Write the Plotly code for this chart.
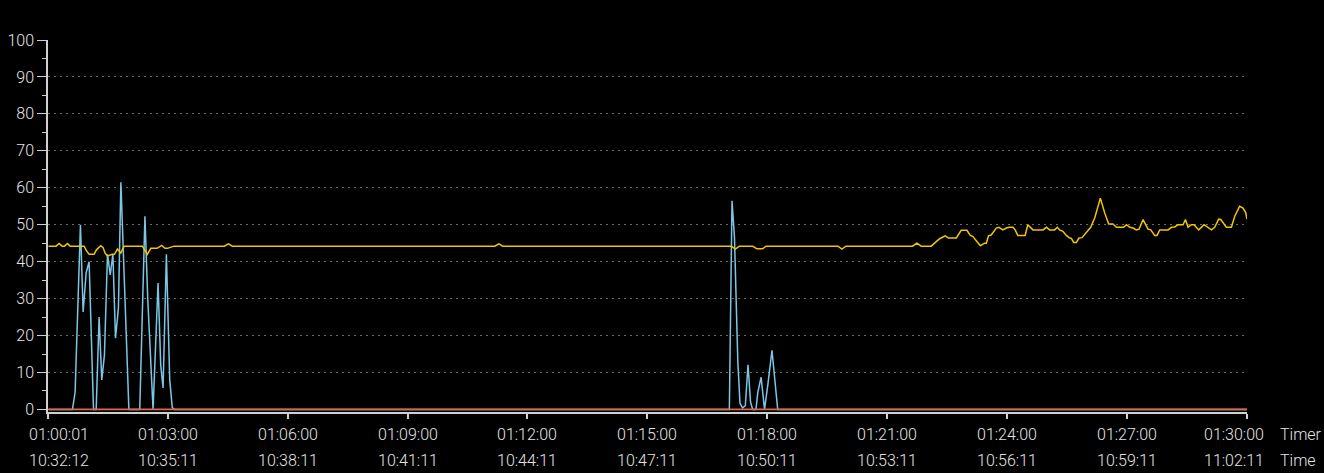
import plotly.graph_objects as go

# ---- data (seconds after 01:00:00 on the timer) ----
tick_seconds = [1, 180, 360, 540, 720, 900, 1080, 1260, 1440, 1620, 1800]
timer_labels = ["01:00:01", "01:03:00", "01:06:00", "01:09:00", "01:12:00", "01:15:00",
                "01:18:00", "01:21:00", "01:24:00", "01:27:00", "01:30:00"]
time_labels = ["10:32:12", "10:35:11", "10:38:11", "10:41:11", "10:44:11", "10:47:11",
               "10:50:11", "10:53:11", "10:56:11", "10:59:11", "11:02:11"]
y_ticks = [0, 10, 20, 30, 40, 50, 60, 70, 80, 90, 100]

blue_t = [1, 37, 41, 49, 53, 57.6, 62, 68.6, 72.6, 77, 81, 85, 89.6, 93.7, 97.7, 101.6, 106,
          109.7, 121.7, 138, 145.8, 150, 158, 165.5, 169.5, 173, 178, 183, 186.8, 190,
          1023, 1027, 1030.7, 1035.7, 1039, 1043, 1047, 1051, 1054.8, 1058, 1063, 1065.7,
          1070.7, 1075.8, 1081, 1087, 1095.6, 1800]
blue_v = [0, 0, 4.7, 50, 26.4, 37, 40, 0, 0, 25, 8, 14.7, 42, 36.4, 42, 19.3, 27.4,
          61.5, 0, 0, 52.3, 30, 0, 34.2, 12, 5.8, 42, 8, 0.5, 0,
          0, 56.5, 46.5, 13, 1.6, 0.4, 1, 12.1, 2, 0, 0, 4.6,
          8.7, 0, 7, 16, 0, 0]

yellow_t = [1, 12.5, 17, 21.5, 25, 29.5, 33.5, 54.5, 58, 62, 69.5, 73, 79.6, 83, 86, 89.5, 96.5, 100,
            104.5, 109.6, 114.5, 142, 146, 149.5, 154.6, 164, 171, 176, 179.5, 189.6,
            265, 271, 277, 671, 677, 683, 1026, 1032, 1038, 1058, 1064, 1073, 1078,
            1186, 1192, 1198, 1286, 1298, 1304.5, 1311, 1326, 1331, 1338.6, 1347, 1352,
            1363.7, 1371, 1379.6, 1384.7, 1388.6, 1393.7, 1399.7, 1406, 1408.7, 1412, 1416,
            1423.7, 1427.6, 1433.6, 1438.7, 1443.7, 1448.6, 1452, 1456, 1467, 1471, 1478.7,
            1493.7, 1499, 1503.8, 1511.3, 1515.3, 1518.8, 1523.7, 1528.8, 1533.8, 1536.4,
            1539.8, 1543.9, 1547.8, 1552.3, 1556.3, 1561.3, 1565.4, 1571.4, 1579.9, 1586.4,
            1592.4, 1598.8, 1604, 1615, 1619, 1624, 1628.9, 1634, 1638, 1644, 1651.4,
            1655.5, 1661.5, 1665, 1669, 1681.5, 1686.6, 1691.5, 1696.5, 1704, 1707.6,
            1711.5, 1716.6, 1720.5, 1727.5, 1735.5, 1741.5, 1746.6, 1751.5, 1757.5, 1760.6,
            1769, 1776.6, 1781.6, 1789, 1794, 1798, 1800]
yellow_v = [44.2, 44.2, 44.9, 44.2, 44.2, 44.9, 44.2, 44.2, 43.0, 42.0, 42.0, 43.2, 44.3, 43.8, 42.3, 41.5, 42.0, 42.0,
            43.4, 42.3, 44.2, 44.2, 43.0, 42.0, 43.6, 43.6, 44.4, 43.6, 43.6, 44.2,
            44.2, 44.8, 44.2, 44.2, 44.8, 44.2, 44.2, 43.4, 44.2, 44.2, 43.5, 43.5, 44.2,
            44.2, 43.4, 44.2, 44.2, 44.2, 45.0, 44.2, 44.2, 45.0, 46.2, 47.0, 46.4,
            46.4, 48.5, 48.5, 47.1, 46.8, 45.5, 44.3, 45.0, 45.0, 47.0, 47.2,
            49.1, 49.3, 48.6, 49.1, 49.3, 49.3, 48.6, 47.1, 47.1, 50.0, 48.6,
            48.6, 49.3, 48.6, 48.6, 49.3, 48.6, 48.2, 47.1, 46.4, 46.3,
            45.2, 45.2, 46.4, 46.5, 47.3, 48.6, 49.3, 51.8, 57.2, 53.2,
            50.2, 50.2, 49.3, 49.3, 50.0, 49.3, 49.1, 48.6, 48.8, 51.4, 48.8,
            48.6, 47.1, 47.1, 48.6, 48.6, 49.3, 49.4, 50.0, 50.0, 51.4,
            49.3, 50.0, 50.0, 48.6, 50.0, 49.3, 48.6, 49.3, 51.5, 51.4,
            49.3, 49.3, 52.3, 55.0, 54.5, 53.3, 51.5]

red_t = [1, 1800]
red_v = [0, 0]

TEXT = "#e4e4e4"
AXIS = "#d0d0d0"
FONT = "Roboto"
FS = 16
label_font = dict(family=FONT, size=FS, color=TEXT, weight=300)

fig = go.Figure()
fig.add_trace(go.Scatter(x=blue_t, y=blue_v, mode="lines",
                         line=dict(color="#7cc6e4", width=1.5)))
fig.add_trace(go.Scatter(x=yellow_t, y=yellow_v, mode="lines",
                         line=dict(color="#f2c500", width=1.5)))
fig.add_trace(go.Scatter(x=red_t, y=red_v, mode="lines",
                         line=dict(color="#e0644e", width=1.8), hoverinfo="skip"))

annotations = []
n = len(tick_seconds)
for i, (t, top, bottom) in enumerate(zip(tick_seconds, timer_labels, time_labels)):
    if i == 0:
        anchor, shift = "left", -21
    elif i == n - 1:
        anchor, shift = "right", 19
    else:
        anchor, shift = "center", 0
    for lab, ys in ((top, -22), (bottom, -48)):
        annotations.append(dict(x=t, y=0, xref="x", yref="paper", text=lab, showarrow=False,
                                xshift=shift, yshift=ys, xanchor=anchor, yanchor="middle",
                                font=label_font))
annotations.append(dict(x=1, y=0, xref="paper", yref="paper", text="Timer", showarrow=False,
                        xshift=31, yshift=-22, xanchor="left", yanchor="middle", font=label_font))
annotations.append(dict(x=1, y=0, xref="paper", yref="paper", text="Time", showarrow=False,
                        xshift=31, yshift=-48, xanchor="left", yanchor="middle", font=label_font))

fig.update_layout(
    width=1324, height=473,
    margin=dict(l=48, r=77, t=40, b=61),
    paper_bgcolor="#000000", plot_bgcolor="#000000",
    showlegend=False,
    font=dict(family=FONT, size=FS, color=TEXT),
    annotations=annotations,
    xaxis=dict(range=[0.3, 1800], tickvals=tick_seconds, showticklabels=False,
               showgrid=False, zeroline=False, showline=True, linecolor=AXIS, linewidth=1.5,
               ticks="outside", ticklen=5, tickcolor=AXIS, tickwidth=1.5, automargin=False),
    yaxis=dict(range=[-0.7, 100], tickvals=y_ticks, automargin=False,
               showgrid=True, gridcolor="#6a6a6a", griddash="2px,4px", gridwidth=1,
               zeroline=False, showline=True, linecolor=AXIS, linewidth=1.5,
               ticks="outside", ticklen=9, tickcolor=AXIS, tickwidth=1,
               minor=dict(dtick=5, tick0=0, ticks="outside", ticklen=4, tickcolor=AXIS, showgrid=False),
               tickfont=dict(family=FONT, size=16, color=TEXT, weight=300)),
)

fig.write_html("out.html", config={"displayModeBar": False},
               post_script="document.body.style.margin='0';document.body.style.padding='0';"
                           "document.body.style.overflow='hidden';"
                           "document.body.style.background='#000';")
